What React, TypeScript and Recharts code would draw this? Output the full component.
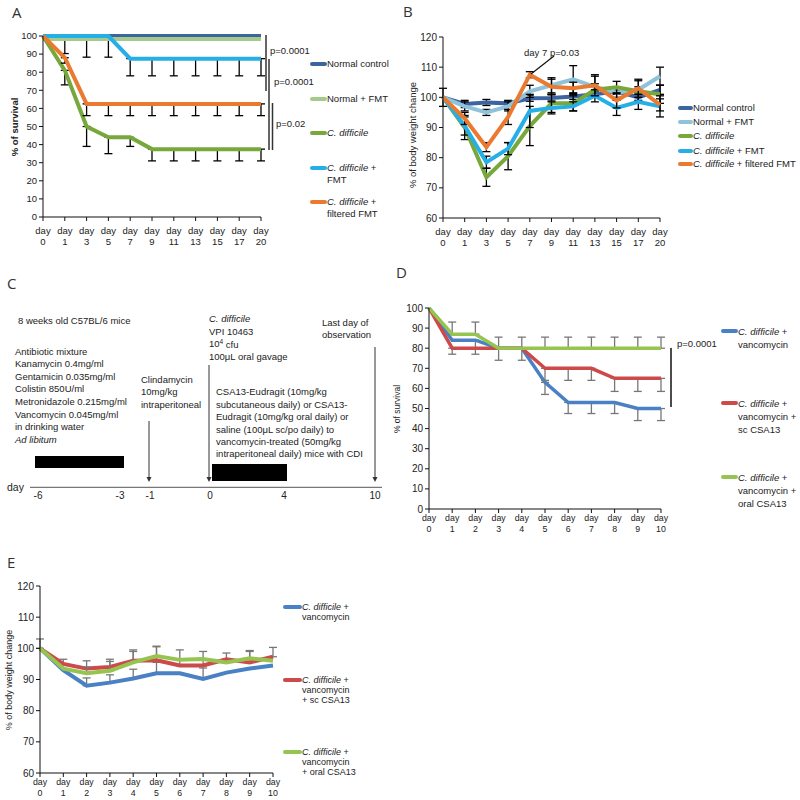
import React from 'react';
import { LineChart, Line, XAxis, YAxis, ErrorBar } from 'recharts';

const FONT = '"Liberation Sans", Arial, sans-serif';
const INK = '#222';

// ---------- A: survival, FMT experiment ----------
const daysAB = ['0', '1', '3', '5', '7', '9', '11', '13', '15', '17', '20'];
const survNormal = [100, 100, 100, 100, 100, 100, 100, 100, 100, 100, 100];
const survNormalFmt = [98.3, 98.3, 98.3, 98.3, 98.3, 98.3, 98.3, 98.3, 98.3, 98.3, 98.3];
const survCd = [100, 81, 50, 44, 44, 37.5, 37.5, 37.5, 37.5, 37.5, 37.5];
const survCdFmt = [100, 100, 100, 100, 87.5, 87.5, 87.5, 87.5, 87.5, 87.5, 87.5];
const survCdFilt = [100, 88, 62.5, 62.5, 62.5, 62.5, 62.5, 62.5, 62.5, 62.5, 62.5];
// [below, above]
const survNormalFmtErr = [null, [8, 0], [10, 0], [10, 0], null, null, null, null, null, null, null];
const survCdErr = [null, [8, 0], [11, 0], [9, 0], [5, 0], [6.5, 0], [6.5, 0], [6.5, 0], [6.5, 0], [6.5, 0], [6.5, 0]];
const survCdFmtErr = [null, null, null, null, [9.5, 0], [9.5, 0], [9.5, 0], [9.5, 0], [9.5, 0], [9.5, 0], [9.5, 0]];
const survCdFiltErr = [null, [3, 0], [6.5, 0], [6.5, 0], [6.5, 0], [6.5, 0], [6.5, 0], [6.5, 0], [6.5, 0], [6.5, 0], [6.5, 0]];

// ---------- B: body weight, FMT experiment ----------
const wNormal = [100, 97.8, 98.3, 98, 99.7, 99.8, 100.3, 101, 102, 100, 102.5];
const wNormalFmt = [100, 97, 95, 97, 102, 104, 106, 103.5, 101.5, 102.5, 107];
const wCd = [100, 90, 73.5, 80.5, 90.5, 98, 98, 102.5, 103.3, 102, 101];
const wCdFmt = [100, 90.5, 78.5, 83, 95.5, 96.5, 97, 100.5, 96.5, 98.5, 97];
const wCdFilt = [100, 93, 83.5, 93.5, 107.5, 103.5, 103, 104, 99, 103, 97.5];
const wNormalErr = [3, 1.2, 1, 1, 1, 1, 1, 1, 1, 1, 1.5];
const wNormalFmtErr = [null, 1.5, 1, 1.5, 2, 2.5, 4.5, 3.5, 1.5, 1, 3];
const wCdErr = [null, 4, 3, 4.5, 6.5, 3, 2.5, 2, 2, 3.5, 3];
const wCdFmtErr = [null, 3, 2, 2, 5.5, 2, 1.5, 2, 2.5, 2.5, 3.5];
const wCdFiltErr = [null, 2, 1.5, 2.5, 1, 2.5, 2, 3.5, 2.5, 3, 2];

// ---------- D: survival, CSA13 experiment ----------
const daysDE = ['0', '1', '2', '3', '4', '5', '6', '7', '8', '9', '10'];
const dVanco = [100, 84, 84, 80, 80, 63, 53, 53, 53, 50, 50];
const dSc = [100, 80, 80, 80, 80, 70, 70, 70, 65, 65, 65];
const dOral = [100, 87, 87, 80, 80, 80, 80, 80, 80, 80, 80];
const dVancoErr = [null, null, [7, 0], [6, 0], [6, 0], [6, 0], [5.5, 0], [5.5, 0], [5.5, 0], [6, 0], [6, 0]];
const dScErr = [null, [3, 0], null, null, null, [6, 0], [6, 0], [6, 0], [6.5, 0], [6.5, 0], [6.5, 0]];
const dOralErr = [null, [0, 6], [0, 6], [0, 5.5], [0, 5.5], [0, 5.5], [0, 5.5], [0, 5.5], [0, 5.5], [0, 5.5], [0, 5.5]];

// ---------- E: body weight, CSA13 experiment ----------
const eVanco = [100, 93, 88, 89, 90.3, 92, 92, 90.2, 92.2, 93.5, 94.5];
const eSc = [100, 95, 93.5, 94, 96, 96.2, 94.5, 94.5, 96.5, 95.5, 97.3];
const eOral = [100, 93.5, 92, 92.8, 95.5, 97.5, 96.3, 96.6, 95.5, 96.8, 96];
const eVancoErr = [[0, 3], null, [0, 2.5], [0, 2.5], [0, 3], [0, 3.5], null, [0, 3.5], null, null, null];
const eScErr = [null, [0, 1.5], [0, 2.5], [0, 2.5], [0, 3.5], [0, 4.5], [0, 5], [0, 4.5], [0, 2], [0, 3.5], [0, 3]];
const eOralErr = [null, null, [0, 2], [0, 3], [0, 3.5], [0, 3], null, null, null, [0, 2.5], null];

const survTicks = [0, 10, 20, 30, 40, 50, 60, 70, 80, 90, 100];
const weightTicks = [60, 70, 80, 90, 100, 110, 120];

// panel C timeline text
const cAntibiotic = ['Antibiotic mixture', 'Kanamycin 0.4mg/ml', 'Gentamicin 0.035mg/ml', 'Colistin 850U/ml', 'Metronidazole 0.215mg/ml', 'Vancomycin 0.045mg/ml', 'in drinking water'];
const cClinda = ['Clindamycin', '10mg/kg', 'intraperitoneal'];
const cTreatment = ['CSA13-Eudragit (10mg/kg', 'subcutaneous daily) or CSA13-', 'Eudragit (10mg/kg oral daily) or', 'saline (100\u03bcL sc/po daily) to', 'vancomycin-treated (50mg/kg', 'intraperitoneal daily) mice with CDI'];
const cDayLabels = ['-6', '-3', '-1', '0', '4', '10'];

const dataA = daysAB.map((d, i) => ({
  day: d, normal: survNormal[i], normalFmt: survNormalFmt[i], cd: survCd[i], cdFmt: survCdFmt[i], cdFilt: survCdFilt[i],
  normalFmtErr: survNormalFmtErr[i], cdErr: survCdErr[i], cdFmtErr: survCdFmtErr[i], cdFiltErr: survCdFiltErr[i],
}));
const dataB = daysAB.map((d, i) => ({
  day: d, normal: wNormal[i], normalFmt: wNormalFmt[i], cd: wCd[i], cdFmt: wCdFmt[i], cdFilt: wCdFilt[i],
  normalErr: wNormalErr[i], normalFmtErr: wNormalFmtErr[i], cdErr: wCdErr[i], cdFmtErr: wCdFmtErr[i], cdFiltErr: wCdFiltErr[i],
}));
const dataD = daysDE.map((d, i) => ({
  day: d, vanco: dVanco[i], sc: dSc[i], oral: dOral[i], vancoErr: dVancoErr[i], scErr: dScErr[i], oralErr: dOralErr[i],
}));
const dataE = daysDE.map((d, i) => ({
  day: d, vanco: eVanco[i], sc: eSc[i], oral: eOral[i], vancoErr: eVancoErr[i], scErr: eScErr[i], oralErr: eOralErr[i],
}));

const C = {
  navy: '#3c64a0', paleGreen: '#a6ca8c', green: '#77a83b', cyan: '#26aee6', orange: '#e97a30',
  paleBlue: '#8ec3da', blue: '#4a80c4', red: '#cc4a4a', lime: '#95c451',
};

const DayTick = (props: any) => {
  const { x, y, payload, first, gap, size } = props;
  return (
    <text x={x} textAnchor="middle" fontSize={size} fill={INK} fontFamily={FONT}>
      <tspan x={x} y={y + first}>day</tspan>
      <tspan x={x} y={y + first + gap}>{payload.value}</tspan>
    </text>
  );
};

const Cd = () => <i>C. difficile</i>;

function Legend({ x, rows, swatch, size, lineH, items }: any) {
  return items.map((it: any, i: number) => (
    <div key={i} style={{ position: 'absolute', left: x, top: rows[i] - lineH / 2, fontSize: size, lineHeight: lineH + 'px', fontFamily: FONT, color: INK, whiteSpace: 'nowrap' }}>
      {it.lines.map((ln: any, j: number) => (
        <div key={j} style={{ display: 'flex', alignItems: 'center' }}>
          <span style={{ display: 'inline-block', width: swatch, height: 4, borderRadius: 2, background: j === 0 ? it.color : 'transparent' }} />
          <span>{ln}</span>
        </div>
      ))}
    </div>
  ));
}

const series = (key: string, color: string, width: number, errKey?: string, errColor = '#000') => (
  <Line key={key} type="linear" dataKey={key} stroke={color} strokeWidth={width} dot={false} isAnimationActive={false}>
    {errKey && <ErrorBar dataKey={errKey} direction="y" width={4} stroke={errColor} strokeWidth={1.3} />}
  </Line>
);

export default function App() {
  const tickA = { fontSize: 9.5, fill: INK, fontFamily: FONT };
  const tick10 = { fontSize: 10, fill: INK, fontFamily: FONT };
  const axis = { stroke: '#111' };
  return (
    <div style={{ position: 'absolute', left: 0, top: 0, width: 800, height: 800, background: '#fff', fontFamily: FONT }}>
      {/* A */}
      <div style={{ position: 'absolute', left: 0, top: 0 }}>
        <LineChart width={280} height={250} data={dataA} margin={{ top: 36, right: 19, bottom: 3, left: 8 }}>
          <XAxis dataKey="day" interval={0} height={30} tickSize={4} axisLine={axis} tickLine={axis}
            tick={(p: any) => <DayTick {...p} first={10.5} gap={11.5} size={9.5} />} />
          <YAxis width={35} domain={[0, 100]} ticks={survTicks} tickSize={4} axisLine={axis} tickLine={axis} tick={tickA} />
          {series('normal', C.navy, 4)}
          {series('normalFmt', C.paleGreen, 4, 'normalFmtErr')}
          {series('cd', C.green, 4, 'cdErr')}
          {series('cdFmt', C.cyan, 4, 'cdFmtErr')}
          {series('cdFilt', C.orange, 4, 'cdFiltErr')}
        </LineChart>
      </div>
      <Legend x={310} rows={[64, 99, 133, 168, 202]} swatch={17} size={9.5} lineH={11.5} items={[
        { color: C.navy, lines: ['Normal control'] },
        { color: C.paleGreen, lines: ['Normal + FMT'] },
        { color: C.green, lines: [<Cd />] },
        { color: C.cyan, lines: [<><Cd /> +</>, 'FMT'] },
        { color: C.orange, lines: [<><Cd /> +</>, 'filtered FMT'] },
      ]} />

      {/* B */}
      <div style={{ position: 'absolute', left: 400, top: 0 }}>
        <LineChart width={275} height={250} data={dataB} margin={{ top: 37, right: 15, bottom: 2, left: 13 }}>
          <XAxis dataKey="day" interval={0} height={30} tickSize={4} axisLine={axis} tickLine={axis}
            tick={(p: any) => <DayTick {...p} first={10.5} gap={11} size={9.5} />} />
          <YAxis width={30} domain={[60, 120]} ticks={weightTicks} tickSize={4} axisLine={axis} tickLine={axis} tick={tick10} />
          {series('normal', C.navy, 4, 'normalErr')}
          {series('normalFmt', C.paleBlue, 4, 'normalFmtErr')}
          {series('cd', C.green, 4, 'cdErr')}
          {series('cdFmt', C.cyan, 4, 'cdFmtErr')}
          {series('cdFilt', C.orange, 4, 'cdFiltErr')}
        </LineChart>
      </div>
      <Legend x={678} rows={[108, 122, 136, 151, 164]} swatch={15} size={9.5} lineH={12} items={[
        { color: C.navy, lines: ['Normal control'] },
        { color: C.paleBlue, lines: ['Normal + FMT'] },
        { color: C.green, lines: [<Cd />] },
        { color: C.cyan, lines: [<><Cd /> + FMT</>] },
        { color: C.orange, lines: [<><Cd /> + filtered FMT</>] },
      ]} />

      {/* D */}
      <div style={{ position: 'absolute', left: 395, top: 290 }}>
        <LineChart width={280} height={250} data={dataD} margin={{ top: 18, right: 14, bottom: 5, left: 6 }}>
          <XAxis dataKey="day" interval={0} height={26} tickSize={4} axisLine={axis} tickLine={axis}
            tick={(p: any) => <DayTick {...p} first={6.4} gap={10.3} size={8.8} />} />
          <YAxis width={28} domain={[0, 100]} ticks={survTicks} tickSize={4} axisLine={axis} tickLine={axis} tick={tick10} />
          {series('vanco', C.blue, 3.5, 'vancoErr', '#777')}
          {series('sc', C.red, 3.5, 'scErr', '#777')}
          {series('oral', C.lime, 3.5, 'oralErr', '#777')}
        </LineChart>
      </div>
      <Legend x={721} rows={[331, 403, 477]} swatch={17} size={9.5} lineH={13} items={[
        { color: C.blue, lines: [<><Cd /> +</>, 'vancomycin'] },
        { color: C.red, lines: [<><Cd /> +</>, 'vancomycin +', 'sc CSA13'] },
        { color: C.lime, lines: [<><Cd /> +</>, 'vancomycin +', 'oral CSA13'] },
      ]} />

      {/* E */}
      <div style={{ position: 'absolute', left: 0, top: 570 }}>
        <LineChart width={285} height={228} data={dataE} margin={{ top: 16, right: 12, bottom: 3, left: 10 }}>
          <XAxis dataKey="day" interval={0} height={22} tickSize={4} axisLine={axis} tickLine={axis}
            tick={(p: any) => <DayTick {...p} first={6.4} gap={10.3} size={8.8} />} />
          <YAxis width={30} domain={[60, 120]} ticks={weightTicks} tickSize={4} axisLine={axis} tickLine={axis} tick={tick10} />
          {series('vanco', C.blue, 4, 'vancoErr', '#777')}
          {series('sc', C.red, 4, 'scErr', '#777')}
          {series('oral', C.lime, 4, 'oralErr', '#777')}
        </LineChart>
      </div>
      <Legend x={283} rows={[607, 680, 752]} swatch={19} size={9} lineH={10.3} items={[
        { color: C.blue, lines: [<><Cd /> +</>, 'vancomycin'] },
        { color: C.red, lines: [<><Cd /> +</>, 'vancomycin', '+ sc CSA13'] },
        { color: C.lime, lines: [<><Cd /> +</>, 'vancomycin', '+ oral CSA13'] },
      ]} />

      {/* annotations, axis titles and the panel C timeline */}
      <svg width={800} height={800} style={{ position: 'absolute', left: 0, top: 0, pointerEvents: 'none' }} fontFamily={FONT} fill={INK}>
        <g fontFamily='"Open Sans", sans-serif' fontSize={15} fill="#333">
          <text x={12} y={18}>A</text>
          <text x={403} y={17}>B</text>
          <text x={7} y={289}>C</text>
          <text x={396} y={278}>D</text>
          <text x={7} y={568}>E</text>
        </g>

        <text transform="translate(14,127) rotate(-90)" textAnchor="middle" dominantBaseline="central" fontSize={9.5} fontWeight="bold">% of survival</text>
        <text transform="translate(412,135) rotate(-90)" textAnchor="middle" dominantBaseline="central" fontSize={9.5}>% of body weight change</text>
        <text transform="translate(397,409) rotate(-90)" textAnchor="middle" dominantBaseline="central" fontSize={8.5}>% of survival</text>
        <text transform="translate(9,680) rotate(-90)" textAnchor="middle" dominantBaseline="central" fontSize={9}>% of body weight change</text>

        {/* A p-values */}
        <g stroke="#333" strokeWidth={1.5}>
          <line x1={266} y1={35} x2={266} y2={91} />
          <line x1={269} y1={59} x2={269} y2={150} />
          <line x1={272.5} y1={103} x2={272.5} y2={150} />
        </g>
        <g fontSize={9.5} dominantBaseline="central">
          <text x={270} y={50}>p=0.0001</text>
          <text x={274} y={81}>p=0.0001</text>
          <text x={276} y={123}>p=0.02</text>
        </g>

        {/* B annotation */}
        <text x={524} y={52} fontSize={9.5} dominantBaseline="central">day 7 p=0.03</text>
        <line x1={554} y1={56} x2={531} y2={74} stroke="#111" strokeWidth={1.2} />

        {/* D p-value */}
        <line x1={671} y1={348} x2={671} y2={407} stroke="#111" strokeWidth={1.5} />
        <text x={677} y={343} fontSize={9.5} dominantBaseline="central">p=0.0001</text>

        {/* C timeline */}
        <g fontSize={9.5} dominantBaseline="central" fill="#222">
          <text x={18} y={320}>8 weeks old C57BL/6 mice</text>
          {cAntibiotic.map((t, i) => <text key={t} x={15} y={351 + i * 12.6}>{t}</text>)}
          <text x={15} y={439} fontStyle="italic">Ad libitum</text>
          {cClinda.map((t, i) => <text key={t} x={141} y={379.3 + i * 12.4}>{t}</text>)}
          <text x={209} y={318.3} fontStyle="italic">C. difficile</text>
          <text x={209} y={331}>VPI 10463</text>
          <text x={209} y={343.5}>10<tspan fontSize={6.5} dy={-3}>4</tspan><tspan dy={3}> cfu</tspan></text>
          <text x={209} y={356.3}>100{'\u03bc'}L oral gavage</text>
          {cTreatment.map((t, i) => <text key={t} x={216} y={391.7 + i * 12.45}>{t}</text>)}
          <text x={322} y={322.7}>Last day of</text>
          <text x={322} y={334.7}>observation</text>
        </g>
        <rect x={35} y={456} width={89} height={12} fill="#000" />
        <rect x={212} y={464} width={75} height={17} fill="#000" />
        <g stroke="#333" strokeWidth={1}>
          <line x1={149} y1={421} x2={149} y2={480} />
          <line x1={209} y1={365} x2={209} y2={480} />
          <line x1={375} y1={347} x2={375} y2={480} />
          <line x1={30} y1={487.3} x2={382} y2={487.3} stroke="#555" />
        </g>
        <g fill="#333">
          <path d="M146.5,477 L151.5,477 L149,482 Z" />
          <path d="M206.5,477 L211.5,477 L209,482 Z" />
          <path d="M372.5,477 L377.5,477 L375,482 Z" />
        </g>
        <text x={7} y={487} fontSize={10.5} dominantBaseline="central">day</text>
        <g fontSize={10} textAnchor="middle" dominantBaseline="central">
          {cDayLabels.map((t, i) => <text key={t} x={[38, 120, 150, 210, 284, 375][i]} y={495}>{t}</text>)}
        </g>
      </svg>
    </div>
  );
}
